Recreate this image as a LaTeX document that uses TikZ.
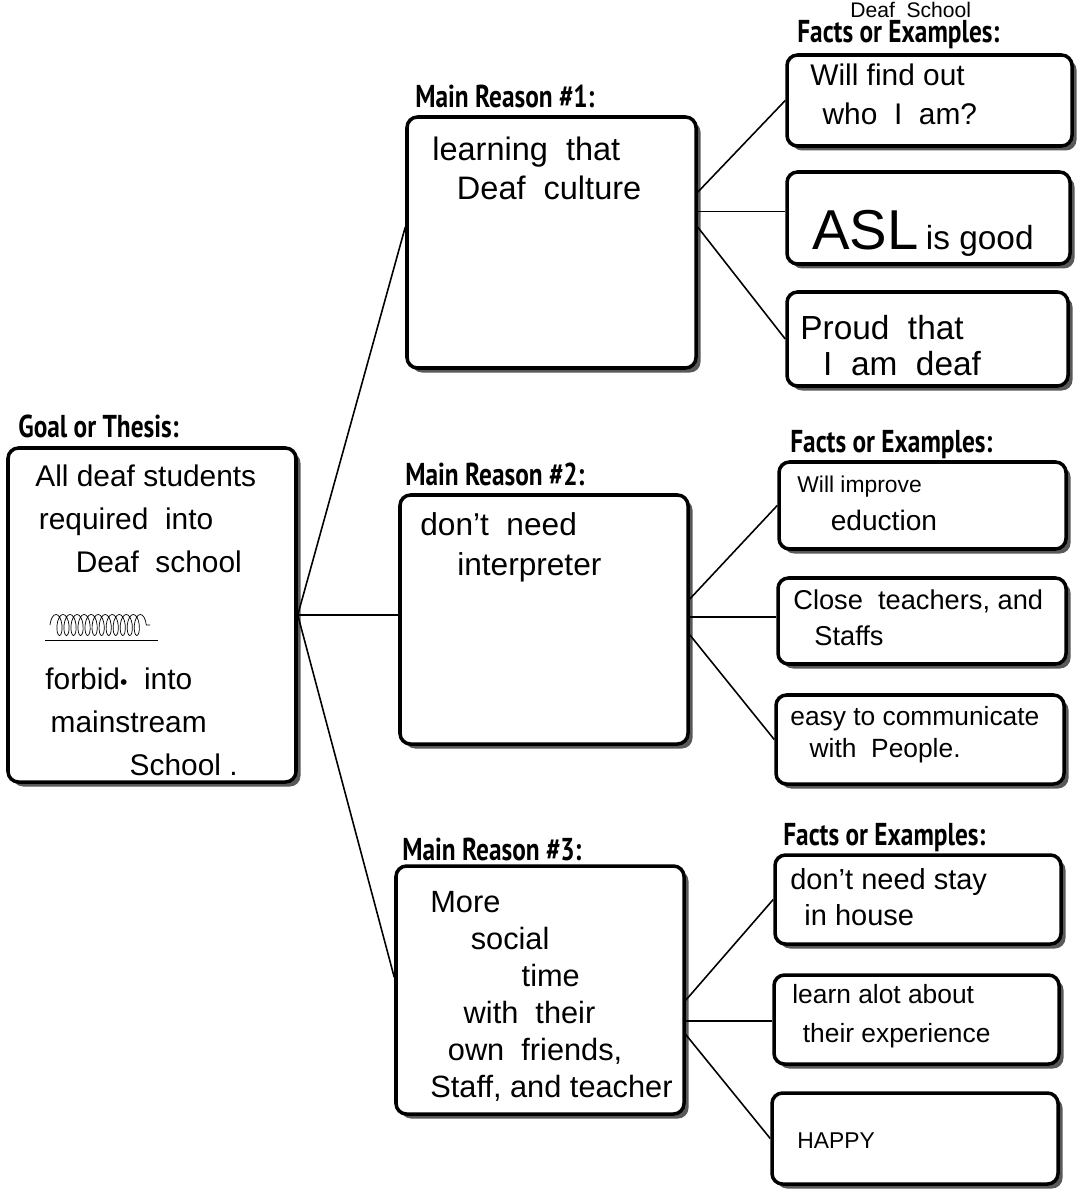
\documentclass[tikz,border=0pt]{standalone}
\usepackage{fontspec}
\setmainfont{Liberation Sans}
\newfontfamily\lblfont{PT Sans}[FakeStretch=0.8]
\usetikzlibrary{positioning,shadows,decorations.pathmorphing,calc}

\begin{document}
\begin{tikzpicture}[
    card/.style={draw, line width=2pt, rounded corners=6pt, fill=white, inner sep=0pt,
        drop shadow={shadow xshift=0.09cm, shadow yshift=-0.09cm, fill=black!65, opacity=1}},
    lbl/.style={font=\lblfont\bfseries\fontsize{18}{20}\selectfont, anchor=base west, inner sep=0pt},
    hand/.style={font=\fontsize{15}{22}\selectfont, anchor=base west, align=left, inner sep=0pt},
    link/.style={line width=0.9pt},
]
\useasboundingbox (0,0) rectangle (21.62,-23.88);

% Goal (text nodes sit on the baseline of their last line)
\node[lbl] (goallbl) at (0.36,-8.74) {Goal or Thesis:};
\node[card, minimum width=5.76cm, minimum height=6.68cm] (goal) at (3.04,-12.30) {};
\node[hand, font=\fontsize{17}{24.4}\selectfont] (goaltxt) at (0.70,-11.44)
    {All deaf students\\\hspace*{2pt}required~~into\\\hspace*{23pt}Deaf~~school};
\draw[decorate, decoration={coil, aspect=0.4, segment length=4pt, amplitude=6pt}]
    (1.00,-12.50) -- (3.00,-12.50);
\draw (0.90,-12.80) -- (3.15,-12.80);
\node[hand, font=\fontsize{17}{24.4}\selectfont] (goaltxtb) at (0.90,-15.50)
    {forbid{\fontsize{12}{12}\selectfont\textbullet}~~into\\\hspace*{3pt}mainstream\\\hspace*{48pt}School~.};

% Main reasons
\node[lbl] (r1lbl) at (8.30,-2.16) {Main Reason \#1:};
\node[card, minimum width=5.78cm, minimum height=5.02cm] (reason1) at (11.03,-4.85) {};
\node[hand, font=\fontsize{18.5}{22.7}\selectfont] (r1txt) at (8.64,-4.00)
    {learning~~that\\\hspace*{14pt}Deaf~~culture};

\node[lbl] (r2lbl) at (8.10,-9.70) {Main Reason \#2:};
\node[card, minimum width=5.76cm, minimum height=4.98cm] (reason2) at (10.88,-12.39) {};
\node[hand, font=\fontsize{18}{22.7}\selectfont] (r2txt) at (8.40,-11.50)
    {don't~~need\\\hspace*{21pt}interpreter};

\node[lbl] (r3lbl) at (8.04,-17.20) {Main Reason \#3:};
\node[card, minimum width=5.76cm, minimum height=4.96cm] (reason3) at (10.80,-19.80) {};
\node[hand, font=\fontsize{17.5}{21}\selectfont] (r3txt) at (8.60,-21.94)
    {More\\\hspace*{23pt}social\\\hspace*{52pt}time\\\hspace*{19pt}with~~their\\\hspace*{10pt}own~~friends,\\Staff, and teacher};

% Facts or Examples
\node[lbl] (f1lbl) at (15.94,-0.86) {Facts or Examples:};
\node[hand, font=\fontsize{12}{14}\selectfont] (school) at (17.00,-0.36) {Deaf~~School};
\node[card, minimum width=5.70cm, minimum height=1.82cm] (fact11) at (18.59,-2.01) {};
\node[card, minimum width=5.66cm, minimum height=1.84cm] (fact12) at (18.57,-4.36) {};
\node[card, minimum width=5.62cm, minimum height=1.88cm] (fact13) at (18.55,-6.78) {};
\node[hand, font=\fontsize{17}{22.7}\selectfont] (f11txt) at (16.20,-2.50)
    {Will~find~out\\\hspace*{7pt}who~~I~~am?};
\node[hand] (f12txt) at (16.24,-5.00)
    {{\fontsize{32}{32}\selectfont ASL}~{\fontsize{19}{20}\selectfont is good}};
\node[hand, font=\fontsize{19}{20}\selectfont] (f13txt) at (16.00,-7.50)
    {Proud~~that\\\hspace*{13pt}I~~am~~deaf};

\node[lbl] (f2lbl) at (15.80,-9.04) {Facts or Examples:};
\node[card, minimum width=5.74cm, minimum height=1.74cm] (fact21) at (18.45,-10.11) {};
\node[card, minimum width=5.76cm, minimum height=1.72cm] (fact22) at (18.44,-12.42) {};
\node[card, minimum width=5.76cm, minimum height=1.78cm] (fact23) at (18.40,-14.79) {};
\node[hand, font=\fontsize{16}{21.5}\selectfont] (f21txt) at (15.94,-10.60)
    {{\fontsize{13}{13}\selectfont Will improve}\\\hspace*{19pt}eduction};
\node[hand, font=\fontsize{15.5}{20}\selectfont] (f22txt) at (15.86,-12.90)
    {Close~~teachers, and\\\hspace*{12pt}Staffs};
\node[hand, font=\fontsize{15}{18}\selectfont] (f23txt) at (15.80,-15.14)
    {easy to communicate\\\hspace*{11pt}with~~People.};

\node[lbl] (f3lbl) at (15.66,-16.90) {Facts or Examples:};
\node[card, minimum width=5.72cm, minimum height=1.78cm] (fact31) at (18.36,-17.99) {};
\node[card, minimum width=5.70cm, minimum height=1.78cm] (fact32) at (18.33,-20.39) {};
\node[card, minimum width=5.72cm, minimum height=1.82cm] (fact33) at (18.30,-22.77) {};
\node[hand, font=\fontsize{16.5}{20}\selectfont] (f31txt) at (15.80,-18.50)
    {don't need stay\\\hspace*{8pt}in house};
\node[hand, font=\fontsize{15}{22}\selectfont] (f32txt) at (15.84,-20.84)
    {learn alot about\\\hspace*{6pt}their experience};
\node[hand, font=\fontsize{13}{20}\selectfont] (f33txt) at (15.94,-22.96) {HAPPY};

% links
\draw[link] (goal.east) -- (reason1.174);
\draw[link] (goal.east) -- (goal.east -| reason2.west);
\draw[link] (goal.east) -- (reason3.175);

\draw[link] (reason1.19) -- (fact11.west);
\draw[link] (reason1.12) -- (reason1.12 -| fact12.west);
\draw[link] (reason1.6) -- (fact13.west);

\draw[link] (reason2.8) -- (fact21.west);
\draw[link] (reason2.1) -- (reason2.1 -| fact22.west);
\draw[link] (reason2.354) -- (fact23.west);

\draw[link] (reason3.356) -- (fact31.west);
\draw[link] (reason3.348) -- (reason3.348 -| fact32.west);
\draw[link] (reason3.343) -- (fact33.west);
\end{tikzpicture}
\end{document}
